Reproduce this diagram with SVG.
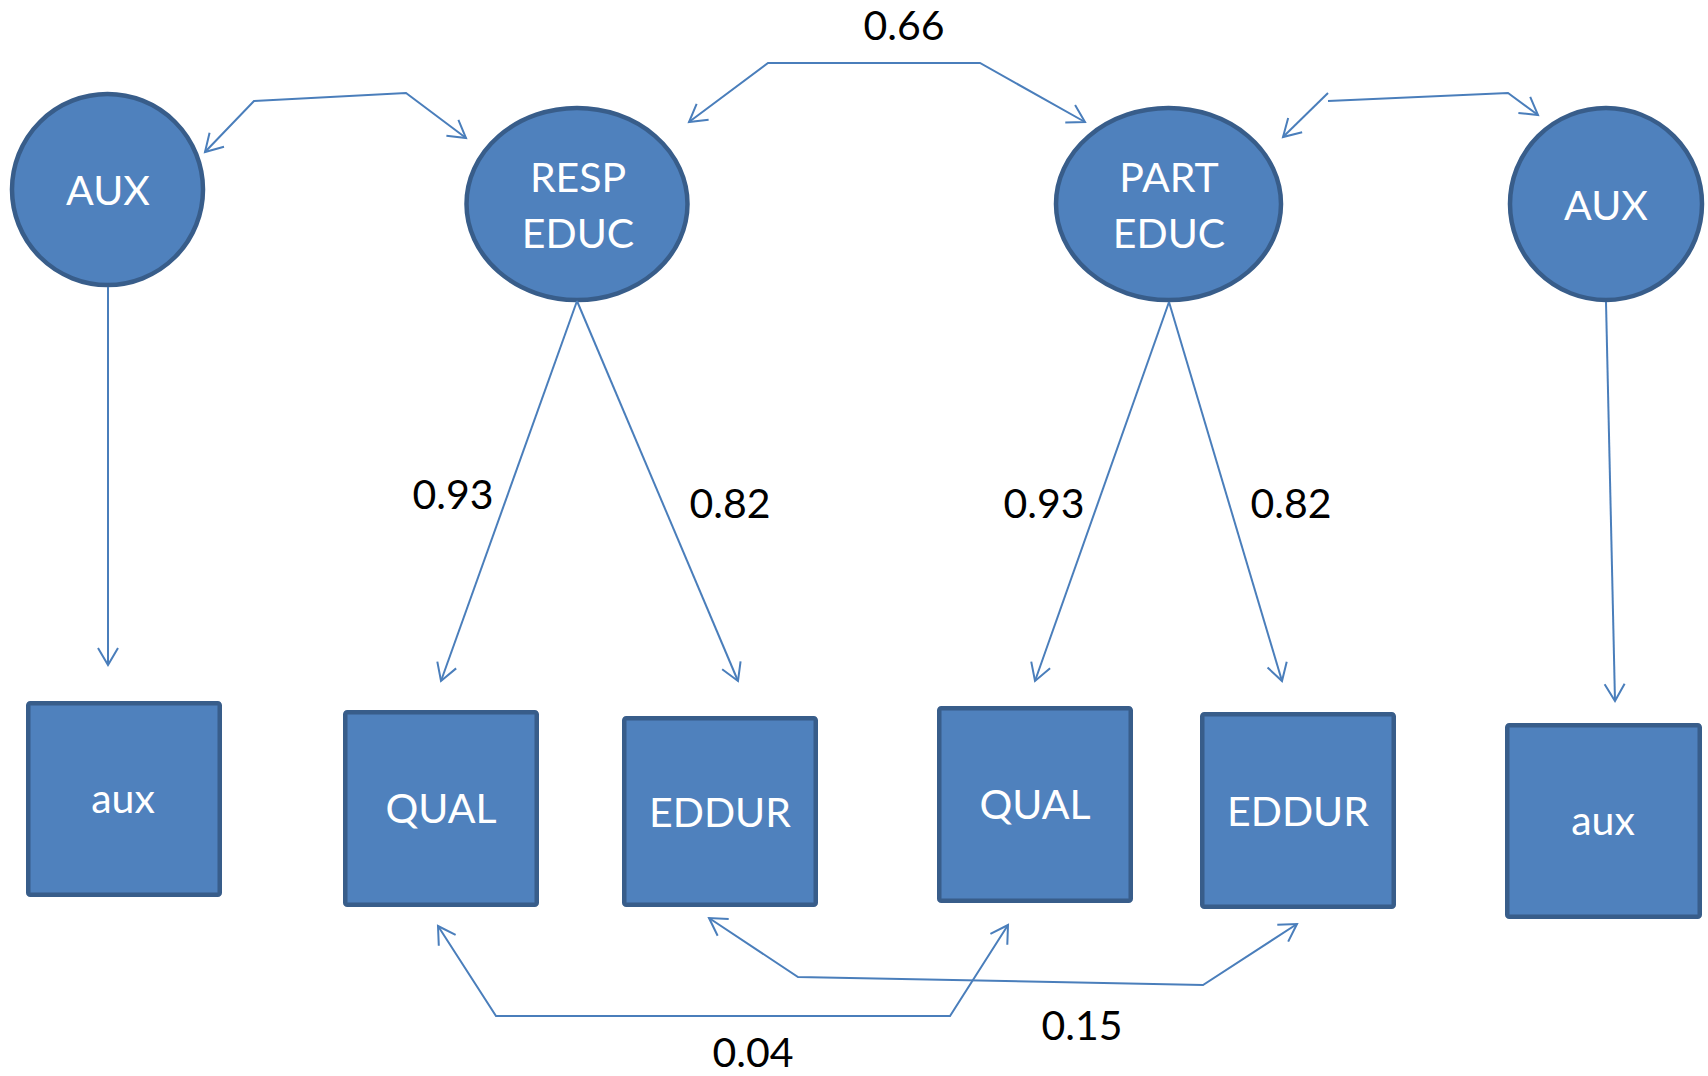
<svg xmlns="http://www.w3.org/2000/svg" width="1708" height="1076" viewBox="0 0 1708 1076">
  <style>
    .node { fill: #4F81BD; stroke: #385D8A; stroke-width: 4.5; }
    .lbl { font-family: Lato, "Open Sans", sans-serif; font-size: 41px; fill: #FFFFFF; text-anchor: middle; }
    .num { font-family: Lato, "Open Sans", sans-serif; font-size: 41px; fill: #000000; text-anchor: middle; }
    .conn { fill: none; stroke: #4A7EBB; stroke-width: 2; stroke-linejoin: miter; }
    .uni { marker-end: url(#head); }
    .bi { marker-start: url(#tail); marker-end: url(#head); }
  </style>
  <defs>
    <marker id="head" markerUnits="userSpaceOnUse" markerWidth="40" markerHeight="40" viewBox="-20 -20 40 40" refX="0" refY="0" orient="auto">
      <path d="M -17,-10 L 0,0 L -17,10" fill="none" stroke="#4A7EBB" stroke-width="2"/>
    </marker>
    <marker id="tail" markerUnits="userSpaceOnUse" markerWidth="40" markerHeight="40" viewBox="-20 -20 40 40" refX="0" refY="0" orient="auto">
      <path d="M 17,-10 L 0,0 L 17,10" fill="none" stroke="#4A7EBB" stroke-width="2"/>
    </marker>
  </defs>

  <rect width="1708" height="1076" fill="#FFFFFF"/>

  <!-- latent variables -->
  <g id="aux-latent-left">
    <ellipse class="node" cx="107.5" cy="189.5" rx="95.5" ry="95.5"/>
    <text class="lbl" x="108" y="205">AUX</text>
  </g>
  <g id="resp-educ">
    <ellipse class="node" cx="577" cy="204" rx="110.5" ry="96"/>
    <text class="lbl" x="578" y="192">RESP</text>
    <text class="lbl" x="578" y="248">EDUC</text>
  </g>
  <g id="part-educ">
    <ellipse class="node" cx="1168.5" cy="204" rx="112.5" ry="96"/>
    <text class="lbl" x="1169" y="192">PART</text>
    <text class="lbl" x="1169" y="248">EDUC</text>
  </g>
  <g id="aux-latent-right">
    <ellipse class="node" cx="1606" cy="204" rx="96" ry="96"/>
    <text class="lbl" x="1606" y="220">AUX</text>
  </g>

  <!-- observed indicators -->
  <g id="aux-obs-left">
    <rect class="node" x="28.25" y="703.25" width="191.5" height="191.5" rx="2"/>
    <text class="lbl" x="123" y="813">aux</text>
  </g>
  <g id="qual-resp">
    <rect class="node" x="345.25" y="712.25" width="191.5" height="192.5" rx="2"/>
    <text class="lbl" x="441" y="823">QUAL</text>
  </g>
  <g id="eddur-resp">
    <rect class="node" x="624.25" y="718.25" width="191.5" height="186.5" rx="2"/>
    <text class="lbl" x="720" y="827">EDDUR</text>
  </g>
  <g id="qual-part">
    <rect class="node" x="939.25" y="708.25" width="191.5" height="192.5" rx="2"/>
    <text class="lbl" x="1035" y="819">QUAL</text>
  </g>
  <g id="eddur-part">
    <rect class="node" x="1202.25" y="714.25" width="191.5" height="192.5" rx="2"/>
    <text class="lbl" x="1298" y="826">EDDUR</text>
  </g>
  <g id="aux-obs-right">
    <rect class="node" x="1507.25" y="725.25" width="192.5" height="191.5" rx="2"/>
    <text class="lbl" x="1603" y="835">aux</text>
  </g>

  <!-- paths and covariances -->
  <g id="connectors">
    <path class="conn uni" d="M 108,287 L 108,665"/>
    <path class="conn uni" d="M 1606,302 L 1615,701"/>
    <path class="conn uni" d="M 577,301 L 441,681"/>
    <path class="conn uni" d="M 577,301 L 738,681"/>
    <path class="conn uni" d="M 1169,302 L 1035,681"/>
    <path class="conn uni" d="M 1169,302 L 1282,681"/>
    <path class="conn bi" d="M 205,152 L 254,101 L 406,93 L 466,138"/>
    <path class="conn bi" d="M 689,122 L 768,63 L 980,63 L 1085,122"/>
    <path class="conn" d="M 1283,137 L 1328,93" marker-start="url(#tail)"/>
    <path class="conn" d="M 1328,101 L 1508,93 L 1538,115" marker-end="url(#head)"/>
    <path class="conn bi" d="M 438,926 L 496,1016 L 950,1016 L 1008,925"/>
    <path class="conn bi" d="M 709,918 L 798,977 L 1203,985 L 1297,924"/>
  </g>

  <!-- coefficients -->
  <g id="coefficients">
    <text class="num" x="904" y="40">0.66</text>
    <text class="num" x="453" y="509">0.93</text>
    <text class="num" x="730" y="518">0.82</text>
    <text class="num" x="1044" y="518">0.93</text>
    <text class="num" x="1291" y="518">0.82</text>
    <text class="num" x="753" y="1067">0.04</text>
    <text class="num" x="1082" y="1040">0.15</text>
  </g>
</svg>
